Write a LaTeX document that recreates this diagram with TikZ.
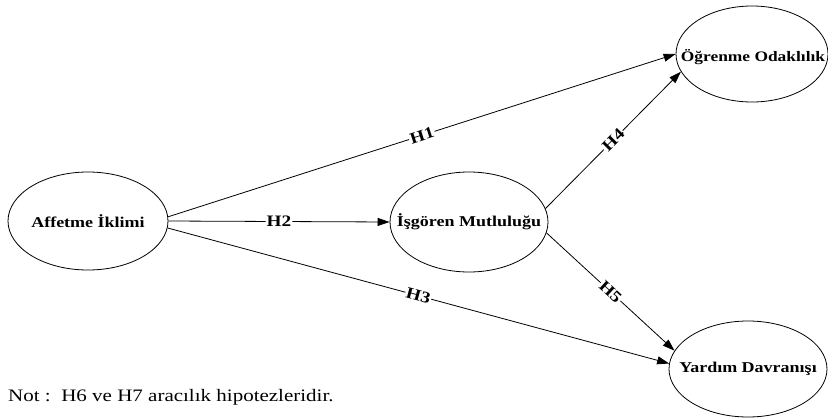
\documentclass[tikz,border=0pt]{standalone}
\usepackage{fontspec}
\setmainfont{Liberation Serif}[FakeStretch=1.2]
\usetikzlibrary{shapes.geometric,arrows.meta}
\begin{document}
\begin{tikzpicture}[x=1pt,y=-1pt,
  ell/.style={ellipse,draw,line width=0.8pt,inner sep=0pt},
  etxt/.style={inner sep=0pt,font=\bfseries\fontsize{15}{16}\selectfont},
  arr/.style={line width=0.8pt,-{Triangle[length=12pt,width=8pt]}},
  lbl/.style={fill=white,inner sep=1pt,sloped,font=\bfseries\fontsize{16}{18}\selectfont}]
\useasboundingbox (0,0) rectangle (828,418);
\node[ell,minimum width=160pt,minimum height=98pt] (a) at (88,221) {};
\node[etxt] (at) at (a) {Affetme İklimi};
\node[ell,minimum width=158pt,minimum height=100pt] (m) at (469,222) {};
\node[etxt] (mt) at (m) {İşgören Mutluluğu};
\node[ell,minimum width=152pt,minimum height=96pt] (o) at (752,54) {};
\node[etxt,font=\bfseries\fontsize{14.5}{16}\selectfont] (ot) at ([xshift=1pt,yshift=-3pt]o.center) {Öğrenme Odaklılık};
\node[ell,minimum width=158pt,minimum height=96pt] (y) at (748,369) {};
\node[etxt] (yt) at (y) {Yardım Davranışı};
\draw[arr] (a.3) -- node[lbl]{H1} (o.180);
\draw[arr] (a.east) -- node[lbl]{H2} (m.west);
\draw[arr] (a.-5) -- node[lbl]{H3} (y.176);
\draw[arr] (m.10) -- node[lbl]{H4} (o.194);
\draw[arr] (m.-8) -- node[lbl]{H5} (y.166);
\node[anchor=base west,inner sep=0pt,font=\fontsize{17.5}{19}\selectfont] (not) at (8,401) {Not :\ \ H6 ve H7 aracılık hipotezleridir.};
\end{tikzpicture}
\end{document}
